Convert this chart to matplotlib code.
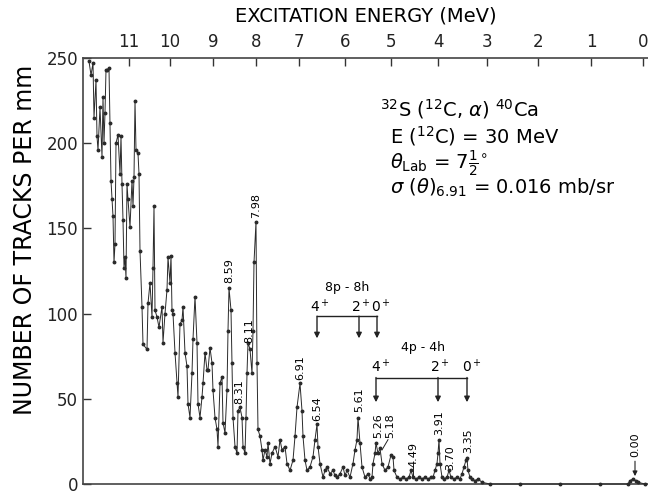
import numpy as np
import matplotlib.pyplot as plt

# position along the plate (arbitrary units) and track density
pos = [89, 91, 93, 94, 96, 97, 98, 100, 102, 103, 104, 105, 106, 107, 109, 110,
       111, 112, 113, 114, 115, 116, 118, 120, 121, 122, 123, 124, 125, 126, 127,
       128, 130, 132, 133, 134, 135, 136, 138, 139, 140, 142, 143, 147, 148, 150,
       152, 153, 154, 155, 157, 159, 162, 163, 165, 167, 168, 170, 171, 172, 173,
       175, 177, 178, 180, 182, 183, 185, 187, 188, 190, 192, 193, 195, 197, 198,
       200, 202, 203, 205, 207, 208, 210, 212, 213, 215, 217, 218, 220, 222, 223,
       225, 227, 228, 229, 231, 232, 233, 235, 237, 238, 240, 242, 243, 245, 246,
       247, 248, 250, 252, 253, 254, 256, 257, 258, 260, 262, 263, 265, 267, 268,
       270, 272, 275, 278, 280, 282, 285, 287, 290, 293, 295, 297, 300, 302, 303,
       305, 307, 310, 313, 315, 317, 318, 320, 323, 325, 327, 330, 333, 335, 337,
       340, 343, 345, 347, 350, 353, 355, 357, 358, 360, 362, 365, 368, 370, 372,
       373, 375, 376, 378, 380, 382, 385, 388, 391, 393, 394, 397, 400, 403, 406,
       409, 411, 413, 416, 419, 422, 425, 428, 431, 433, 435, 437, 438, 439, 440,
       442, 444, 447, 449, 451, 454, 457, 460, 462, 464, 466, 467, 468, 470, 472,
       475, 478, 482, 490, 520, 560, 600, 628, 630, 633, 636, 638, 645]
counts = [248, 240, 247, 215, 237, 204, 196, 221, 192, 227, 200, 218, 243, 243, 244, 212,
          178, 167, 157, 130, 141, 200, 205, 182, 204, 176, 155, 127, 133, 121, 176,
          167, 151, 178, 163, 180, 225, 196, 194, 182, 137, 104, 82, 79, 106, 118,
          98, 127, 163, 102, 98, 92, 104, 83, 100, 114, 133, 118, 134, 102, 100,
          77, 59, 51, 94, 96, 104, 77, 69, 47, 39, 65, 85, 110, 83, 47,
          39, 51, 59, 77, 67, 67, 80, 71, 55, 39, 32, 22, 59, 63, 36,
          30, 55, 90, 115, 102, 71, 39, 22, 18, 43, 45, 39, 22, 18, 39,
          65, 83, 79, 65, 90, 130, 154, 71, 32, 28, 20, 14, 20, 16, 24,
          12, 18, 22, 16, 26, 20, 22, 12, 8, 14, 28, 45, 59, 43, 28,
          14, 8, 10, 16, 26, 35, 22, 12, 4, 8, 10, 6, 8, 5, 4,
          6, 10, 5, 8, 4, 12, 20, 26, 39, 24, 10, 4, 6, 3, 4,
          12, 18, 24, 18, 21, 12, 8, 10, 17, 16, 8, 4, 3, 4, 3,
          4, 8, 4, 3, 4, 3, 4, 3, 4, 4, 8, 12, 18, 26, 12,
          4, 3, 4, 8, 4, 3, 4, 3, 6, 10, 14, 15, 8, 4, 3,
          2, 3, 1, 0, 0, 0, 0, 0, 2, 3, 2, 1, 0]

# excitation energy calibration of the top scale
cal_energy = [11, 10, 9, 8, 7, 6, 5, 4, 3, 2, 1, 0]
cal_pos = [129, 170, 213, 256, 299, 345, 391, 438, 487, 538, 591, 643]

# labelled peaks: text, x, y of label bottom
peak_labels = ["8.59", "8.31", "8.11", "7.98", "6.91", "6.54", "5.61", "5.26",
               "5.18", "4.49", "3.91", "3.70", "3.35", "0.00"]
peak_x = [229, 239, 249, 256, 300, 317, 359, 378, 390, 413, 439, 450, 468, 635]
peak_y = [118, 47, 83, 156, 61, 37, 42, 27, 27, 10, 29, 8, 18, 16]

fig = plt.figure(figsize=(6.48, 4.92), dpi=100)
ax = fig.add_axes([83 / 648, 8 / 492, 565 / 648, 426 / 492])

ax.plot(pos, counts, color="#2a2a2a", lw=0.7, marker="o", ms=1.8,
        mec="#2a2a2a", mfc="#2a2a2a", clip_on=False, zorder=3)

ax.set_xlim(83, 648)
ax.set_ylim(0, 250)

# top energy axis
ax.xaxis.tick_top()
ax.xaxis.set_label_position("top")
ax.set_xticks(cal_pos)
ax.set_xticklabels([str(e) for e in cal_energy])
ax.set_xlabel("EXCITATION ENERGY (MeV)", fontsize=14, labelpad=8)
ax.set_yticks([0, 50, 100, 150, 200, 250])
ax.set_ylabel("NUMBER OF TRACKS PER mm", fontsize=17)
ax.yaxis.set_label_coords(-0.082, 0.573)
ax.tick_params(axis="both", direction="in", length=6, width=1, labelsize=12,
               color="#333333", labelcolor="#222222")
ax.tick_params(axis="x", pad=5)
ax.spines["right"].set_visible(False)
for s in ("top", "left", "bottom"):
    ax.spines[s].set_color("#444444")
    ax.spines[s].set_linewidth(1.2)

# reaction text
ax.text(380, 220, r"$^{32}$S ($^{12}$C, $\alpha$) $^{40}$Ca", fontsize=14, va="center")
ax.text(390, 204, r"E ($^{12}$C) = 30 MeV", fontsize=14, va="center")
ax.text(390, 188, r"$\theta_{\rm Lab}$ = 7$\frac{1}{2}^{\circ}$", fontsize=14, va="center")
ax.text(390, 174, r"$\sigma$ ($\theta$)$_{6.91}$ = 0.016 mb/sr", fontsize=14, va="center")

# peak energy labels
for t, x, y in zip(peak_labels, peak_x, peak_y):
    ax.text(x, y, t, rotation=90, fontsize=8, ha="center", va="bottom")
ax.plot([388, 382], [26, 20], color="#222222", lw=0.7)
ax.plot([413, 413], [10, 4], color="#222222", lw=0.7)
ax.annotate("", xy=(635, 3), xytext=(635, 15),
            arrowprops=dict(arrowstyle="-|>", color="#222222", lw=0.8,
                            mutation_scale=7))

# band brackets
def bracket(xs, y_bar, y_tip, spins, label_x, label_y, title, x_title, y_title):
    ax.plot([xs[0], xs[-1]], [y_bar, y_bar], color="#222222", lw=1.0)
    for x in xs:
        ax.annotate("", xy=(x, y_tip), xytext=(x, y_bar),
                    arrowprops=dict(arrowstyle="-|>", color="#222222", lw=1.0,
                                    mutation_scale=8, shrinkA=0, shrinkB=0))
    for x, sp in zip(label_x, spins):
        ax.text(x, label_y, sp, fontsize=10, ha="center", va="center")
    ax.text(x_title, y_title, title, fontsize=9, ha="center", va="center")

spins = [r"4$^+$", r"2$^+$", r"0$^+$"]
bracket([317, 359, 377], 98.5, 85.5, spins, [320, 361, 381], 104, "8p - 8h", 347, 115.5)
bracket([376, 438, 467], 62.5, 48, spins, [381, 440, 472], 69, "4p - 4h", 423, 80)

fig.savefig("out.png", dpi=100)
